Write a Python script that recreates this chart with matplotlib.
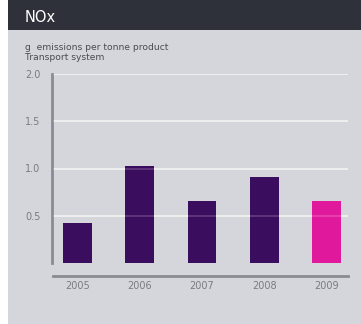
import matplotlib
matplotlib.use("Agg")
import matplotlib.pyplot as plt
from matplotlib.patches import Rectangle

years = ["2005", "2006", "2007", "2008", "2009"]
nox = [0.42, 1.03, 0.66, 0.91, 0.66]
bar_colors = ["#3b0d5f", "#3b0d5f", "#3b0d5f", "#3b0d5f", "#e0189b"]
y_ticks = [0.5, 1.0, 1.5, 2.0]
y_tick_labels = ["0.5", "1.0", "1.5", "2.0"]

W, H = 361, 324
fig = plt.figure(figsize=(W / 100, H / 100), dpi=100)
fig.patch.set_facecolor("white")

# panel background and header band
fig.patches.append(Rectangle((8 / W, 0), 1 - 8 / W, 1, transform=fig.transFigure,
                             facecolor="#d5d6db", edgecolor="none", zorder=-10))
fig.patches.append(Rectangle((8 / W, 1 - 30 / H), 1 - 8 / W, 30 / H, transform=fig.transFigure,
                             facecolor="#2e313a", edgecolor="none", zorder=-10))

fig.text(25 / W, 1 - 17 / H, "NOx", color="white", fontsize=10.5, va="center", ha="left")
fig.text(25 / W, 1 - 47 / H, "g  emissions per tonne product", color="#4a4a50", fontsize=6.6,
         va="center", ha="left")
fig.text(25 / W, 1 - 57 / H, "Transport system", color="#4a4a50", fontsize=6.6,
         va="center", ha="left")

ax = fig.add_axes([53 / W, (H - 263) / H, (348 - 53) / W, (263 - 74) / H])
ax.set_zorder(5)
ax.set_facecolor("none")
x = range(len(years))
ax.bar(x, nox, width=0.46, color=bar_colors, zorder=2)

ax.set_ylim(0, 2.0)
ax.set_xlim(-0.39, 4.34)
ax.set_yticks(y_ticks)
ax.set_yticklabels(y_tick_labels)
ax.set_xticks(list(x))
ax.set_xticklabels(years)
# solid grid behind the bars, faint copy over them
ax.yaxis.grid(True, color="#eeeef0", linewidth=1.3)
ax.set_axisbelow(True)
for v in y_ticks:
    ax.axhline(v, color="white", linewidth=1.3, alpha=0.18, zorder=3)
ax.tick_params(axis="both", length=0, labelsize=7, labelcolor="#7a7a82")
ax.tick_params(axis="y", pad=8)
ax.tick_params(axis="x", pad=4)

for s in ("top", "right"):
    ax.spines[s].set_visible(False)
ax.spines["left"].set_color("#8a8a92")
ax.spines["left"].set_linewidth(2)
ax.spines["left"].set_position(("outward", 1))
ax.spines["bottom"].set_color("#8a8a92")
ax.spines["bottom"].set_linewidth(2)
ax.spines["bottom"].set_position(("outward", 9))

fig.savefig("out.png", dpi=100, facecolor=fig.get_facecolor())
